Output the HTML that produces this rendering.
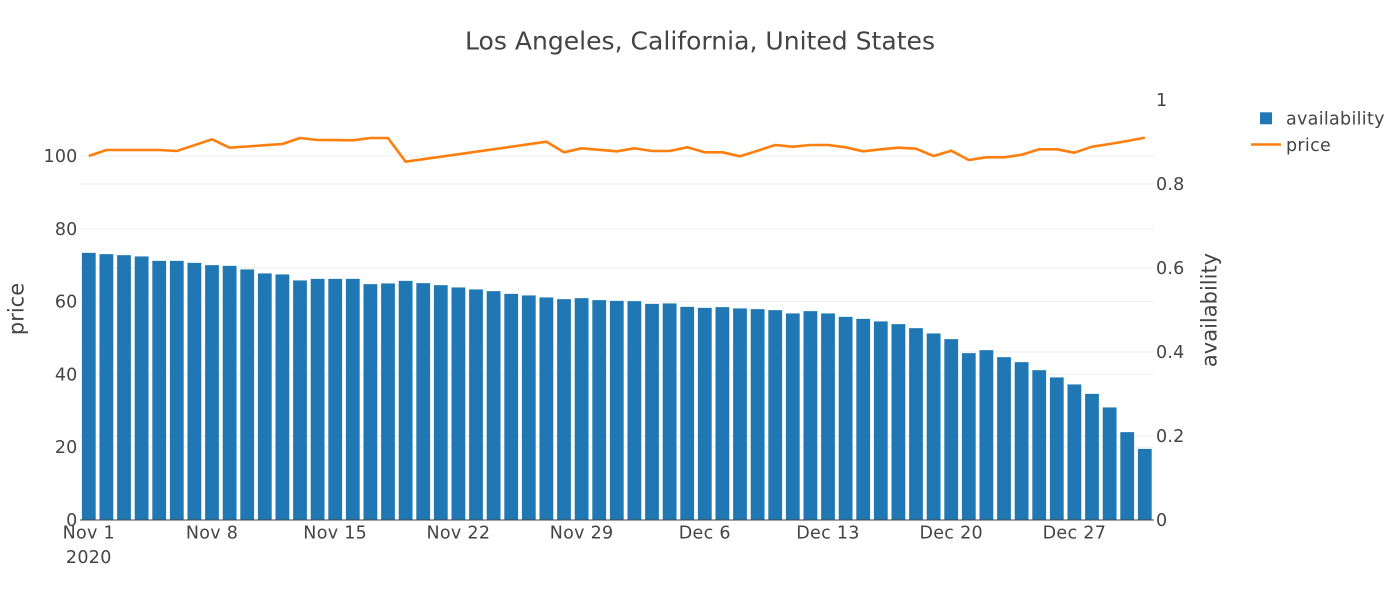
<!DOCTYPE html>
<html>
<head>
<meta charset="utf-8">
<style>
html,body{margin:0;padding:0;background:#fff;}
svg{display:block;}
text{font-family:"DejaVu Sans","Liberation Sans",sans-serif;fill:#444;}
</style>
</head>
<body>
<svg width="1400" height="600" viewBox="0 0 1400 600" xmlns="http://www.w3.org/2000/svg">
<rect width="1400" height="600" fill="#fff"/>
<g stroke="#eeeeee" stroke-width="1">
<line x1="80" x2="1154" y1="447.2" y2="447.2"/>
<line x1="80" x2="1154" y1="374.4" y2="374.4"/>
<line x1="80" x2="1154" y1="301.6" y2="301.6"/>
<line x1="80" x2="1154" y1="228.8" y2="228.8"/>
<line x1="80" x2="1154" y1="156" y2="156"/>
<line x1="80" x2="1154" y1="436" y2="436"/>
<line x1="80" x2="1154" y1="352" y2="352"/>
<line x1="80" x2="1154" y1="268" y2="268"/>
<line x1="80" x2="1154" y1="184" y2="184"/>
</g>
<g fill="#1f77b4" stroke="#ffffff" stroke-width="0.5" stroke-opacity="0.6">
<rect x="81.76" y="252.7" width="14.08" height="267.3"/>
<rect x="99.36" y="254" width="14.08" height="266"/>
<rect x="116.96" y="255" width="14.08" height="265"/>
<rect x="134.56" y="256.3" width="14.08" height="263.7"/>
<rect x="152.16" y="260.7" width="14.08" height="259.3"/>
<rect x="169.76" y="260.7" width="14.08" height="259.3"/>
<rect x="187.36" y="262.7" width="14.08" height="257.3"/>
<rect x="204.96" y="265" width="14.08" height="255"/>
<rect x="222.56" y="265.7" width="14.08" height="254.3"/>
<rect x="240.16" y="269.3" width="14.08" height="250.7"/>
<rect x="257.76" y="273.3" width="14.08" height="246.7"/>
<rect x="275.36" y="274.3" width="14.08" height="245.7"/>
<rect x="292.96" y="280.3" width="14.08" height="239.7"/>
<rect x="310.56" y="278.7" width="14.08" height="241.3"/>
<rect x="328.16" y="278.7" width="14.08" height="241.3"/>
<rect x="345.76" y="278.7" width="14.08" height="241.3"/>
<rect x="363.36" y="284" width="14.08" height="236"/>
<rect x="380.96" y="283.3" width="14.08" height="236.7"/>
<rect x="398.56" y="280.7" width="14.08" height="239.3"/>
<rect x="416.16" y="283" width="14.08" height="237"/>
<rect x="433.76" y="285" width="14.08" height="235"/>
<rect x="451.36" y="287.3" width="14.08" height="232.7"/>
<rect x="468.96" y="289.3" width="14.08" height="230.7"/>
<rect x="486.56" y="291" width="14.08" height="229"/>
<rect x="504.16" y="293.7" width="14.08" height="226.3"/>
<rect x="521.76" y="295.3" width="14.08" height="224.7"/>
<rect x="539.36" y="297.3" width="14.08" height="222.7"/>
<rect x="556.96" y="299" width="14.08" height="221"/>
<rect x="574.56" y="298" width="14.08" height="222"/>
<rect x="592.16" y="300" width="14.08" height="220"/>
<rect x="609.76" y="300.7" width="14.08" height="219.3"/>
<rect x="627.36" y="301" width="14.08" height="219"/>
<rect x="644.96" y="303.7" width="14.08" height="216.3"/>
<rect x="662.56" y="303.3" width="14.08" height="216.7"/>
<rect x="680.16" y="306.7" width="14.08" height="213.3"/>
<rect x="697.76" y="307.7" width="14.08" height="212.3"/>
<rect x="715.36" y="307" width="14.08" height="213"/>
<rect x="732.96" y="308.3" width="14.08" height="211.7"/>
<rect x="750.56" y="309" width="14.08" height="211"/>
<rect x="768.16" y="310" width="14.08" height="210"/>
<rect x="785.76" y="313.3" width="14.08" height="206.7"/>
<rect x="803.36" y="311" width="14.08" height="209"/>
<rect x="820.96" y="313.3" width="14.08" height="206.7"/>
<rect x="838.56" y="316.7" width="14.08" height="203.3"/>
<rect x="856.16" y="318.7" width="14.08" height="201.3"/>
<rect x="873.76" y="321.3" width="14.08" height="198.7"/>
<rect x="891.36" y="324" width="14.08" height="196"/>
<rect x="908.96" y="328" width="14.08" height="192"/>
<rect x="926.56" y="333.3" width="14.08" height="186.7"/>
<rect x="944.16" y="339" width="14.08" height="181"/>
<rect x="961.76" y="353" width="14.08" height="167"/>
<rect x="979.36" y="350" width="14.08" height="170"/>
<rect x="996.96" y="357" width="14.08" height="163"/>
<rect x="1014.56" y="362" width="14.08" height="158"/>
<rect x="1032.16" y="370" width="14.08" height="150"/>
<rect x="1049.76" y="377.3" width="14.08" height="142.7"/>
<rect x="1067.36" y="384.3" width="14.08" height="135.7"/>
<rect x="1084.96" y="393.7" width="14.08" height="126.3"/>
<rect x="1102.56" y="407.3" width="14.08" height="112.7"/>
<rect x="1120.16" y="432" width="14.08" height="88"/>
<rect x="1137.76" y="448.7" width="14.08" height="71.3"/>
</g>
<line x1="80" x2="1154" y1="520" y2="520" stroke="#444" stroke-width="1"/>
<polyline fill="none" stroke="#ff7f0e" stroke-width="2.6" stroke-linejoin="round" points="88.8,156 106.4,150 124,150 141.6,150 159.2,150 176.8,151 194.4,145.2 212,139.3 229.6,147.7 247.2,146.5 264.8,145.2 282.4,144 300,138 317.6,140 335.2,140.1 352.8,140.3 370.4,138 388,138 405.6,161.7 546.4,141.7 564,152.3 581.6,148.3 599.2,149.8 616.8,151.3 634.4,148.3 652,151 669.6,151 687.2,147.3 704.8,152.3 722.4,152.3 740,156.3 757.6,150.7 775.2,145 792.8,146.7 810.4,145 828,145 845.6,147.3 863.2,151.3 880.8,149.3 898.4,147.7 916,148.7 933.6,156 951.2,150.7 968.8,160 986.4,157.3 1004,157.3 1021.6,154.7 1039.2,149.3 1056.8,149.3 1074.4,152.7 1092,146.7 1109.6,144 1127.2,141 1144.8,137.7"/>
<text x="700" y="49.5" text-anchor="middle" font-size="25" textLength="470" lengthAdjust="spacingAndGlyphs">Los Angeles, California, United States</text>
<g font-size="17.5" text-anchor="end" letter-spacing="0.2">
<text x="77.5" y="526">0</text>
<text x="77.5" y="453.2">20</text>
<text x="77.5" y="380.4">40</text>
<text x="77.5" y="307.6">60</text>
<text x="77.5" y="234.8">80</text>
<text x="77.5" y="162">100</text>
</g>
<g font-size="17.5" text-anchor="start" letter-spacing="0.2">
<text x="1156" y="526">0</text>
<text x="1156" y="442">0.2</text>
<text x="1156" y="358">0.4</text>
<text x="1156" y="274">0.6</text>
<text x="1156" y="190">0.8</text>
<text x="1156" y="106">1</text>
</g>
<g font-size="17.5" text-anchor="middle" letter-spacing="0.3">
<text x="88.8" y="538.7">Nov 1</text>
<text x="88.8" y="563">2020</text>
<text x="212" y="538.7">Nov 8</text>
<text x="335.2" y="538.7">Nov 15</text>
<text x="458.4" y="538.7">Nov 22</text>
<text x="581.6" y="538.7">Nov 29</text>
<text x="704.8" y="538.7">Dec 6</text>
<text x="828" y="538.7">Dec 13</text>
<text x="951.2" y="538.7">Dec 20</text>
<text x="1074.4" y="538.7">Dec 27</text>
</g>
<text transform="translate(23.5,309) rotate(-90)" text-anchor="middle" font-size="21">price</text>
<text transform="translate(1216.5,310) rotate(-90)" text-anchor="middle" font-size="21">availability</text>
<rect x="1260" y="112.3" width="12" height="12" fill="#1f77b4"/>
<text x="1286" y="124.5" font-size="17.5" letter-spacing="0.3">availability</text>
<line x1="1251" x2="1281" y1="144.5" y2="144.5" stroke="#ff7f0e" stroke-width="2.6"/>
<text x="1286" y="151" font-size="17.5" letter-spacing="0.3">price</text>
</svg>
</body>
</html>
